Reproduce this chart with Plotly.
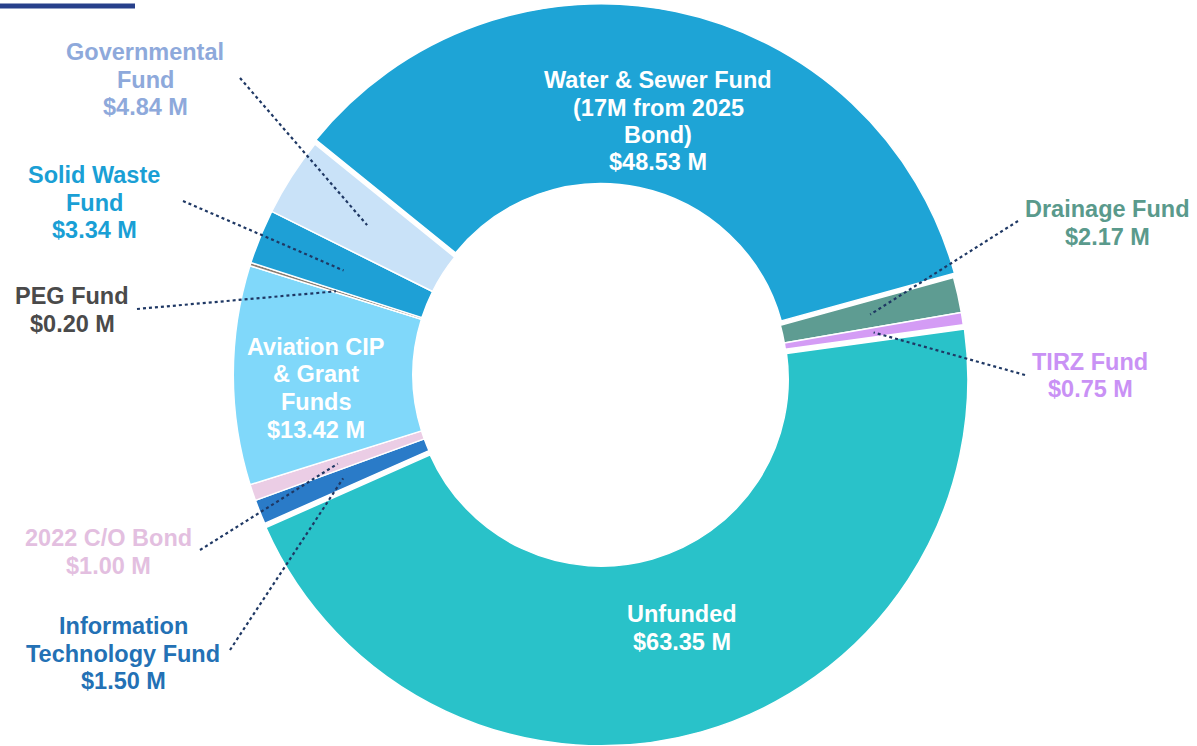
import math
import plotly.graph_objects as go

# ---------------- data ----------------
categories = ["Water & Sewer Fund", "Drainage Fund", "TIRZ Fund", "Unfunded",
              "Information Technology Fund", "2022 C/O Bond",
              "Aviation CIP & Grant Funds", "PEG Fund", "Solid Waste Fund",
              "Governmental Fund"]
values = [48.53, 2.17, 0.75, 63.35, 1.50, 1.00, 13.42, 0.20, 3.34, 4.84]
label_lines = [["Water & Sewer Fund", "(17M from 2025", "Bond)"],
               ["Drainage Fund"], ["TIRZ Fund"], ["Unfunded"],
               ["Information", "Technology Fund"], ["2022 C/O Bond"],
               ["Aviation CIP", "& Grant", "Funds"], ["PEG Fund"],
               ["Solid Waste", "Fund"], ["Governmental", "Fund"]]

# ---------------- styles ----------------
slice_colors = ["#1EA4D6", "#5E9C92", "#D49CF5", "#29C2C9", "#2A7BC8",
                "#EBCDE5", "#80D8FA", "#8C7E72", "#1EA0D6", "#C9E2F8"]
text_colors = ["#FFFFFF", "#5A9A8C", "#C991F5", "#FFFFFF", "#2371B5",
               "#E3BFE0", "#FFFFFF", "#4A4A4A", "#1A9FD5", "#8EA9DB"]
pulls = [0.012, 0, 0, 0.012, 0, 0, 0, 0, 0, 0]
# label first-line centre (px) and leader-line outer end (px or None)
label_pos = [(658, 80), (1107, 209), (1090, 362), (682, 614), (123, 626),
             (108, 538), (316, 347), (72, 296), (94, 175), (145, 52)]
leader_end = [None, (1018, 221), (1025, 375), None, (230, 650), (200, 550),
              None, (137, 309), (183, 201), (240, 78)]
LINE_GAP = 27.5
FONT = "Liberation Sans, Arial, sans-serif"
FS = 23.5

W, H = 1197, 746
ROT = -51
HOLE = 0.51
dom_x = [227.6 / W, 972.4 / W]
dom_y = [0.0, 0.995]

fig = go.Figure(go.Pie(
    labels=categories, values=values, sort=False, direction="clockwise",
    rotation=ROT, hole=HOLE, pull=pulls,
    marker=dict(colors=slice_colors, line=dict(color="#FFFFFF", width=1.5)),
    textinfo="none", hoverinfo="label+value", showlegend=False,
    domain=dict(x=dom_x, y=dom_y)))

# pie geometry in px (mirrors plotly's layout of the pie)
cx = (dom_x[0] + dom_x[1]) / 2 * W
cy = (1 - (dom_y[0] + dom_y[1]) / 2) * H
r = min((dom_x[1] - dom_x[0]) * W, (dom_y[1] - dom_y[0]) * H) / (2 + 2 * max(pulls))
total = sum(values)

shapes = []
annotations = []
cum = 0.0
for i, v in enumerate(values):
    mid_frac = (cum + v / 2) / total
    cum += v
    ang = math.radians(90 - ROT - 360 * mid_frac)
    # leader line
    if leader_end[i] is not None:
        rr = 0.755 * r
        px = cx + rr * math.cos(ang)
        py = cy - rr * math.sin(ang)
        ex, ey = leader_end[i]
        shapes.append(dict(type="line", xref="paper", yref="paper",
                           x0=ex / W, y0=1 - ey / H, x1=px / W, y1=1 - py / H,
                           line=dict(color="#1F3864", width=2.2, dash="dot")))
    lines = label_lines[i] + [f"${v:.2f} M"]
    lx, ly = label_pos[i]
    for j, t in enumerate(lines):
        annotations.append(dict(
            x=lx / W, y=1 - (ly + j * LINE_GAP) / H, xref="paper", yref="paper",
            text=f"<b>{t}</b>", showarrow=False, xanchor="center", yanchor="middle",
            font=dict(family=FONT, size=FS, color=text_colors[i])))

# navy rule at top-left
shapes.append(dict(type="rect", xref="paper", yref="paper",
                   x0=0, x1=135 / W, y0=1 - 8.5 / H, y1=1 - 3.5 / H,
                   fillcolor="#27408B", line=dict(width=0)))

fig.update_layout(width=W, height=H, margin=dict(l=0, r=0, t=0, b=0),
                  paper_bgcolor="#FFFFFF", plot_bgcolor="#FFFFFF",
                  shapes=shapes, annotations=annotations)

fig.write_html("out.html")
